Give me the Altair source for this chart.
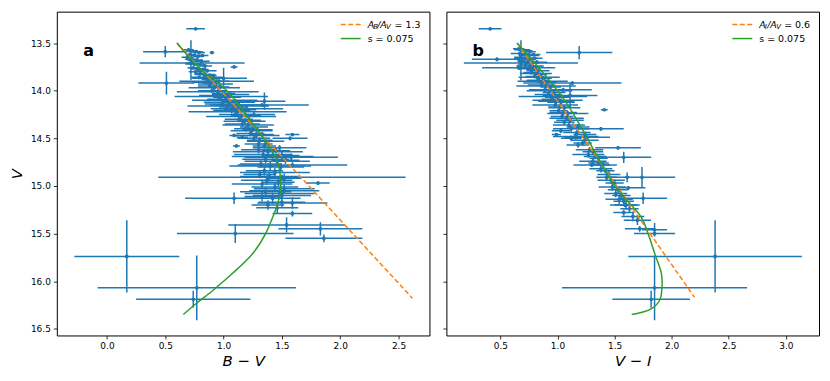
import altair as alt
import pandas as pd

BLUE = "#1f77b4"
ORANGE = "#ff7f0e"
GREEN = "#2ca02c"
FONT = "DejaVu Sans"

# ---------------- Panel a: V vs B-V ----------------
a_x = [
    0.70, 0.73, 0.76, 0.79, 0.71, 0.75, 0.78, 0.82,
    0.69, 0.73, 0.77, 0.81, 0.72, 0.75, 0.79, 0.84,
    0.74, 0.78, 0.82, 0.86, 0.76, 0.80, 0.84, 0.88,
    0.79, 0.83, 0.87, 0.91, 0.85, 0.89, 0.93, 0.96,
    0.88, 0.92, 0.97, 0.90, 0.95, 1.00, 0.93, 0.98,
    1.03, 1.06, 0.96, 1.01, 1.05, 1.10, 0.99, 1.04,
    1.08, 1.13, 1.02, 1.07, 1.12, 1.16, 1.10, 1.15, 1.19,
    1.13, 1.18, 1.22, 1.16, 1.21, 1.26, 1.19, 1.24, 1.29,
    1.23, 1.28, 1.33, 1.26, 1.31, 1.36, 1.30, 1.35,
    1.30, 1.38, 1.45, 1.34, 1.42, 1.50, 1.36, 1.46, 1.53, 1.32,
    1.40, 1.49, 1.35, 1.44, 1.31, 1.39, 1.52, 1.37, 1.47, 1.33,
    1.44, 1.52, 1.36, 1.48, 1.33, 1.42, 1.50, 1.38, 1.46,
    0.76, 0.50, 0.90, 0.51, 0.72, 0.73, 1.09, 1.00, 0.94, 1.35,
    1.33, 1.59, 1.57, 1.09, 1.16, 1.11, 1.58, 1.59, 1.50, 1.81,
    1.09, 1.59, 1.59, 1.54, 1.83, 1.10, 1.86, 0.17, 0.77, 0.74,
    1.20, 1.26, 1.48, 1.50, 1.52,
]
a_y = [
    13.57, 13.58, 13.59, 13.60, 13.62, 13.63, 13.64, 13.63,
    13.65, 13.67, 13.68, 13.69, 13.71, 13.72, 13.73, 13.74,
    13.76, 13.77, 13.78, 13.79, 13.80, 13.82, 13.83, 13.84,
    13.86, 13.87, 13.88, 13.86, 13.91, 13.92, 13.93, 13.90,
    13.95, 13.97, 13.96, 14.00, 14.01, 14.03, 14.05, 14.06,
    14.07, 14.04, 14.09, 14.10, 14.12, 14.11, 14.14, 14.16,
    14.17, 14.15, 14.19, 14.21, 14.22, 14.20, 14.25, 14.27, 14.26,
    14.30, 14.32, 14.31, 14.35, 14.36, 14.38, 14.40, 14.42, 14.41,
    14.45, 14.47, 14.46, 14.50, 14.52, 14.53, 14.56, 14.58,
    14.62, 14.64, 14.63, 14.67, 14.69, 14.68, 14.72, 14.74, 14.73, 14.77,
    14.79, 14.80, 14.84, 14.86, 14.88, 14.90, 14.92, 14.94, 14.96, 14.98,
    15.01, 15.03, 15.06, 15.08, 15.11, 15.13, 15.17, 15.20, 15.23,
    13.35, 13.59, 13.60, 13.92, 13.68, 13.71, 13.75, 13.87, 13.90, 14.11,
    14.15, 14.46, 14.50, 14.47, 14.49, 14.58, 14.70, 14.78, 14.91, 14.97,
    15.13, 15.18, 15.29, 15.41, 15.45, 15.50, 15.55, 15.74, 16.07, 16.19,
    14.19, 14.25, 14.60, 15.10, 15.05,
]
a_xerr = [
    0.04, 0.05, 0.06, 0.05, 0.03, 0.07, 0.04, 0.05,
    0.05, 0.06, 0.05, 0.07, 0.04, 0.08, 0.05, 0.06,
    0.05, 0.07, 0.05, 0.08, 0.06, 0.05, 0.09, 0.06,
    0.07, 0.10, 0.06, 0.08, 0.12, 0.07, 0.15, 0.09,
    0.10, 0.22, 0.08, 0.12, 0.35, 0.10, 0.14, 0.40,
    0.12, 0.16, 0.10, 0.28, 0.22, 0.12, 0.15, 0.35,
    0.12, 0.25, 0.10, 0.16, 0.42, 0.12, 0.14, 0.30, 0.13,
    0.12, 0.18, 0.10, 0.15, 0.22, 0.12, 0.10, 0.18, 0.13,
    0.12, 0.20, 0.10, 0.14, 0.11, 0.16, 0.12, 0.10,
    0.15, 0.30, 0.12, 0.25, 0.35, 0.15, 0.20, 0.28, 0.12, 0.18,
    0.35, 0.20, 0.16, 0.30, 0.14, 0.25, 0.15, 0.22, 0.14, 0.26,
    0.20, 0.26, 0.22, 0.30, 0.15, 0.24, 0.20, 0.14, 0.18,
    0.08, 0.19, 0.02, 0.24, 0.03, 0.45, 0.03, 0.20, 0.32, 0.18,
    0.40, 0.06, 0.15, 0.04, 0.05, 0.03, 0.40, 0.47, 1.06, 0.10,
    0.42, 0.30, 0.17, 0.50, 0.36, 0.50, 0.33, 0.45, 0.85, 0.49,
    0.31, 0.18, 0.23, 0.25, 0.30,
]
a_yerr = [
    0.015, 0.015, 0.015, 0.015, 0.015, 0.02, 0.015, 0.015,
    0.015, 0.02, 0.015, 0.02, 0.015, 0.02, 0.015, 0.02,
    0.015, 0.02, 0.02, 0.02, 0.02, 0.02, 0.02, 0.02,
    0.02, 0.02, 0.02, 0.02, 0.025, 0.02, 0.025, 0.02,
    0.02, 0.03, 0.02, 0.025, 0.03, 0.025, 0.025, 0.03,
    0.025, 0.03, 0.02, 0.03, 0.03, 0.025, 0.03, 0.03,
    0.025, 0.04, 0.025, 0.03, 0.04, 0.03, 0.03, 0.03, 0.03,
    0.03, 0.03, 0.03, 0.03, 0.035, 0.03, 0.03, 0.035, 0.03,
    0.03, 0.04, 0.03, 0.035, 0.03, 0.04, 0.03, 0.03,
    0.04, 0.04, 0.03, 0.04, 0.05, 0.04, 0.04, 0.05, 0.04, 0.04,
    0.05, 0.04, 0.05, 0.05, 0.04, 0.05, 0.05, 0.05, 0.05, 0.05,
    0.05, 0.05, 0.05, 0.06, 0.05, 0.06, 0.05, 0.05, 0.06,
    0.01, 0.06, 0.01, 0.12, 0.21, 0.02, 0.01, 0.11, 0.02, 0.09,
    0.02, 0.01, 0.02, 0.01, 0.01, 0.01, 0.04, 0.03, 0.03, 0.02,
    0.06, 0.06, 0.03, 0.08, 0.07, 0.10, 0.04, 0.38, 0.34, 0.09,
    0.03, 0.03, 0.03, 0.04, 0.03,
]
a_line_x = [0.60, 2.62]
a_line_y = [13.50, 16.18]
a_curve_x = [0.60, 0.79, 1.02, 1.19, 1.36, 1.46, 1.49, 1.47, 1.43, 1.36, 1.25, 1.075, 0.905, 0.76, 0.655]
a_curve_y = [13.50, 13.76, 13.99, 14.25, 14.53, 14.74, 15.00, 15.16, 15.30, 15.50, 15.71, 15.92, 16.10, 16.24, 16.35]

# ---------------- Panel b: V vs V-I ----------------
b_x = [
    0.66, 0.69, 0.72, 0.76, 0.67, 0.71, 0.75, 0.79,
    0.68, 0.72, 0.76, 0.80, 0.70, 0.74, 0.78, 0.82,
    0.72, 0.76, 0.80, 0.74, 0.78, 0.83, 0.77, 0.81,
    0.85, 0.80, 0.84, 0.88, 0.83, 0.87, 0.91,
    0.86, 0.90, 0.94, 0.89, 0.93, 0.97, 0.92, 0.96, 1.00, 0.95,
    0.99, 1.03, 0.98, 1.02, 1.06, 1.01, 1.05, 1.09, 1.04, 1.08,
    1.11, 1.06, 1.10, 1.18, 1.12, 1.03, 1.17, 1.24, 1.16, 1.12, 1.24, 1.22, 1.18,
    1.28, 1.31, 1.27, 1.33, 1.36, 1.31, 1.36, 1.40, 1.38, 1.42, 1.45, 1.43, 1.47, 1.50,
    1.48, 1.53, 1.51, 1.56, 1.54, 1.58, 1.60, 1.63, 1.66, 1.70,
    0.41, 1.19, 0.47, 0.68, 0.68, 0.66, 1.13, 1.11, 1.41, 0.99,
    1.38, 1.26, 1.58, 1.30, 1.74, 1.61, 1.75, 1.59, 1.58, 1.72,
    1.85, 1.85, 2.38, 1.85, 1.82, 1.05, 1.00, 1.53, 1.62,
]
b_y = [
    13.56, 13.57, 13.58, 13.59, 13.61, 13.62, 13.63, 13.62,
    13.65, 13.66, 13.67, 13.66, 13.69, 13.70, 13.71, 13.70,
    13.73, 13.74, 13.75, 13.77, 13.78, 13.79, 13.81, 13.82,
    13.83, 13.85, 13.86, 13.87, 13.89, 13.90, 13.91,
    13.94, 13.95, 13.96, 13.99, 14.00, 14.02, 14.04, 14.06, 14.07, 14.09,
    14.11, 14.12, 14.15, 14.17, 14.18, 14.21, 14.23, 14.24, 14.27, 14.29,
    14.31, 14.33, 14.36, 14.38, 14.40, 14.42, 14.44, 14.46, 14.48, 14.50, 14.52, 14.55, 14.57,
    14.62, 14.64, 14.67, 14.69, 14.71, 14.74, 14.76, 14.78, 14.82, 14.84, 14.88, 14.91, 14.94, 14.97,
    15.01, 15.04, 15.08, 15.10, 15.14, 15.16, 15.20, 15.24, 15.32, 15.36,
    13.35, 13.60, 13.67, 13.71, 13.68, 13.76, 13.92, 14.05, 14.20, 14.46,
    14.40, 14.49, 14.70, 14.78, 14.91, 14.91, 15.13, 15.20, 15.28, 15.45,
    15.46, 15.50, 15.74, 16.07, 16.19, 13.99, 14.10, 14.60, 15.02,
]
b_xerr = [
    0.05, 0.07, 0.06, 0.05, 0.08, 0.05, 0.09, 0.06,
    0.06, 0.10, 0.05, 0.07, 0.05, 0.08, 0.06, 0.09,
    0.07, 0.12, 0.06, 0.08, 0.05, 0.10, 0.07, 0.14,
    0.06, 0.08, 0.18, 0.07, 0.10, 0.22, 0.08,
    0.12, 0.26, 0.09, 0.14, 0.20, 0.10, 0.12, 0.30, 0.11, 0.09,
    0.16, 0.12, 0.20, 0.10, 0.14, 0.08, 0.12, 0.18, 0.10, 0.15,
    0.12, 0.09, 0.14, 0.10, 0.16, 0.08, 0.12, 0.10, 0.20, 0.09, 0.12, 0.08, 0.10,
    0.12, 0.09, 0.14, 0.10, 0.08, 0.12, 0.09, 0.12, 0.10, 0.08, 0.10, 0.09, 0.12, 0.08,
    0.12, 0.09, 0.10, 0.08, 0.12, 0.09, 0.10, 0.08, 0.10, 0.12,
    0.10, 0.29, 0.22, 0.50, 0.03, 0.32, 0.43, 0.24, 0.03, 0.04,
    0.20, 0.20, 0.24, 0.16, 0.29, 0.02, 0.21, 0.13, 0.09, 0.13,
    0.11, 0.18, 0.76, 0.81, 0.34, 0.25, 0.22, 0.20, 0.15,
]
b_yerr = [
    0.015, 0.015, 0.015, 0.015, 0.015, 0.015, 0.02, 0.015,
    0.015, 0.02, 0.015, 0.02, 0.015, 0.02, 0.015, 0.02,
    0.02, 0.02, 0.02, 0.02, 0.02, 0.02, 0.02, 0.02,
    0.02, 0.02, 0.025, 0.02, 0.025, 0.03, 0.02,
    0.025, 0.03, 0.02, 0.025, 0.03, 0.025, 0.025, 0.03, 0.025, 0.02,
    0.03, 0.025, 0.03, 0.025, 0.03, 0.02, 0.03, 0.03, 0.025, 0.03,
    0.03, 0.025, 0.03, 0.03, 0.03, 0.025, 0.03, 0.03, 0.035, 0.03, 0.03, 0.03, 0.03,
    0.03, 0.03, 0.035, 0.03, 0.03, 0.035, 0.03, 0.04, 0.04, 0.03, 0.04, 0.04, 0.04, 0.04,
    0.04, 0.04, 0.04, 0.04, 0.05, 0.05, 0.05, 0.04, 0.05, 0.05,
    0.01, 0.07, 0.02, 0.02, 0.21, 0.02, 0.02, 0.13, 0.01, 0.01,
    0.02, 0.02, 0.06, 0.02, 0.11, 0.05, 0.06, 0.02, 0.03, 0.03,
    0.07, 0.02, 0.38, 0.34, 0.09, 0.02, 0.02, 0.02, 0.02,
]
b_line_x = [0.646, 2.20]
b_line_y = [13.50, 16.17]
b_curve_x = [0.646, 1.067, 1.503, 1.735, 1.793, 1.851, 1.91, 1.915, 1.895, 1.82, 1.65]
b_curve_y = [13.50, 14.11, 15.00, 15.33, 15.50, 15.71, 15.92, 16.06, 16.20, 16.29, 16.35]

y_ticks = [13.5, 14.0, 14.5, 15.0, 15.5, 16.0, 16.5]
a_ticks = [0.0, 0.5, 1.0, 1.5, 2.0, 2.5]
b_ticks = [0.5, 1.0, 1.5, 2.0, 2.5, 3.0]

Y_DOMAIN = [13.17, 16.57]
W, H = 374, 325


def panel(xs, ys, xe, ye, lx, ly, cx, cy, xdomain, xticks, xtitle,
          letter, leg_parts, leg2, show_ylabels):
    assert len(xs) == len(ys) == len(xe) == len(ye)
    df = pd.DataFrame({"x": xs, "y": ys, "xe": xe, "ye": ye})
    df["xlo"] = df["x"] - df["xe"]
    df["xhi"] = df["x"] + df["xe"]
    df["ylo"] = df["y"] - df["ye"]
    df["yhi"] = df["y"] + df["ye"]

    xscale = alt.Scale(domain=xdomain, nice=False, zero=False)
    yscale = alt.Scale(domain=Y_DOMAIN, reverse=True, nice=False, zero=False)
    xaxis = alt.Axis(values=xticks, format=".1f", title=xtitle, grid=False,
                     titleFontStyle="italic", titleFontSize=15,
                     titleFontWeight="normal", titleFont=FONT, titlePadding=3)
    if show_ylabels:
        yaxis = alt.Axis(values=y_ticks, format=".1f", title="V", grid=False,
                         titleFontStyle="italic", titleFontSize=15,
                         titleFontWeight="normal", titleFont=FONT,
                         titlePadding=6, titleAngle=-90)
    else:
        yaxis = alt.Axis(values=y_ticks, labels=False, title=None, grid=False)

    X = lambda f: alt.X(f, type="quantitative", scale=xscale, axis=xaxis)
    Y = lambda f: alt.Y(f, type="quantitative", scale=yscale, axis=yaxis)

    base = alt.Chart(df)
    hbar = base.mark_rule(color=BLUE, strokeWidth=1.5, clip=True).encode(
        x=X("xlo"), x2="xhi", y=Y("y"))
    vbar = base.mark_rule(color=BLUE, strokeWidth=1.5, clip=True).encode(
        x=X("x"), y=Y("ylo"), y2="yhi")
    pts = base.mark_circle(color=BLUE, size=14, opacity=1).encode(
        x=X("x"), y=Y("y"))

    ldf = pd.DataFrame({"x": lx, "y": ly})
    line = alt.Chart(ldf).mark_line(color=ORANGE, strokeWidth=1.5,
                                    strokeDash=[5, 2.5], clip=True).encode(
        x=X("x"), y=Y("y"))
    cdf = pd.DataFrame({"x": cx, "y": cy, "i": list(range(len(cx)))})
    curve = alt.Chart(cdf).mark_line(color=GREEN, strokeWidth=1.5,
                                     interpolate="catmull-rom", clip=True).encode(
        x=X("x"), y=Y("y"), order="i:Q")

    one = alt.Chart(pd.DataFrame({"k": [0]}))
    lab = one.mark_text(text=letter, font=FONT, fontSize=16, fontWeight="bold",
                        align="center", baseline="alphabetic", color="black").encode(
        x=alt.value(32), y=alt.value(45))

    leg_x0 = leg_parts[0][1] - 27
    s1 = one.mark_rule(color=ORANGE, strokeWidth=1.5, strokeDash=[5, 2.5]).encode(
        x=alt.value(leg_x0), x2=alt.value(leg_x0 + 20), y=alt.value(13))
    s2 = one.mark_rule(color=GREEN, strokeWidth=1.5).encode(
        x=alt.value(leg_x0), x2=alt.value(leg_x0 + 20), y=alt.value(27))
    texts = []
    for (t, px, py, size, style) in leg_parts:
        texts.append(one.mark_text(text=t, font=FONT, fontSize=size,
                                   fontStyle=style, align="left",
                                   baseline="middle", color="black").encode(
            x=alt.value(px), y=alt.value(py)))
    texts.append(one.mark_text(text=leg2, font=FONT, fontSize=9.5, align="left",
                               baseline="middle", color="black").encode(
        x=alt.value(leg_parts[0][1]), y=alt.value(27)))

    return alt.layer(hbar, vbar, pts, line, curve, lab, s1, s2, *texts).properties(
        width=W, height=H)


leg_a = [("A", 312, 13, 9.5, "italic"), ("B", 317.5, 15.5, 7, "italic"),
         ("/", 321.5, 13, 9.5, "italic"), ("A", 324.5, 13, 9.5, "italic"),
         ("V", 330.5, 15.5, 7, "italic"), ("= 1.3", 339, 13, 9.5, "normal")]
leg_b = [("A", 314, 13, 9.5, "italic"), ("I", 319.5, 15.5, 7, "italic"),
         ("/", 322, 13, 9.5, "italic"), ("A", 325, 13, 9.5, "italic"),
         ("V", 331, 15.5, 7, "italic"), ("= 0.6", 339, 13, 9.5, "normal")]

pa = panel(a_x, a_y, a_xerr, a_yerr, a_line_x, a_line_y, a_curve_x, a_curve_y,
           [-0.43, 2.765], a_ticks, "B − V", "a", leg_a, "s = 0.075", True)
pb = panel(b_x, b_y, b_xerr, b_yerr, b_line_x, b_line_y, b_curve_x, b_curve_y,
           [0.027, 3.29], b_ticks, "V − I", "b", leg_b, "s = 0.075", False)

chart = alt.hconcat(pa, pb, spacing=11).properties(
    padding={"left": 0, "top": 2, "right": 2, "bottom": 2}
).configure(background="white").configure_view(
    stroke="black", strokeWidth=1
).configure_axis(
    grid=False, domain=False, ticks=True, tickColor="black", tickWidth=0.8,
    tickSize=3.5, labelFont=FONT, labelFontSize=9, labelColor="black",
    labelPadding=3, titleColor="black"
)

chart.save("out.html", embed_options={"renderer": "svg", "actions": False})
